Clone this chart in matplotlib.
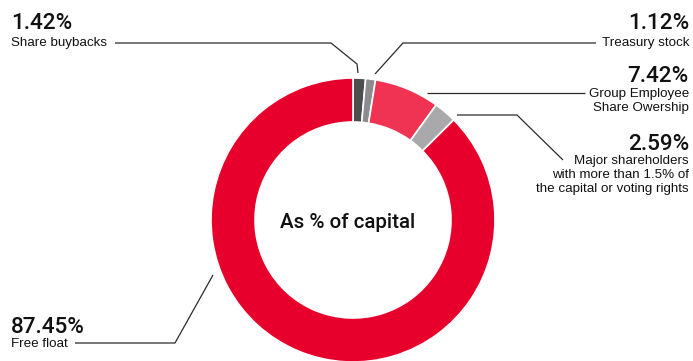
import matplotlib
matplotlib.use("Agg")
import matplotlib.pyplot as plt

# Shareholding structure (as % of capital), clockwise from 12 o'clock
labels = ["Share buybacks", "Treasury stock", "Group Employee\nShare Owership",
          "Major shareholders\nwith more than 1.5% of\nthe capital or voting rights",
          "Free float"]
values = [1.42, 1.12, 7.42, 2.59, 87.45]
colors = ["#4d4d4f", "#8c8c8e", "#f03352", "#a9a9ab", "#e8002d"]

W, H = 693, 361
plt.rcParams['font.family'] = ['Liberation Sans', 'DejaVu Sans']

fig = plt.figure(figsize=(W / 100, H / 100), dpi=100)
ax = fig.add_axes([0, 0, 1, 1])
ax.set_xlim(0, W)
ax.set_ylim(0, H)
ax.set_aspect("equal")
ax.axis("off")

# donut (image coords: center 353,220)
cx, cy = 353, H - 220
ax.pie(values, colors=colors, startangle=90, counterclock=False,
       center=(cx, cy), radius=142,
       wedgeprops=dict(width=44, edgecolor="white", linewidth=1.2))
ax.set_xlim(0, W)
ax.set_ylim(0, H)

num_font = dict(family=["Roboto", "DejaVu Sans"], fontweight="medium")

ax.text(348, H - 228, "As % of capital", ha="center", va="baseline",
        fontsize=14.8, color="#111111", **num_font)

def fy(y):
    return H - y

line_kw = dict(color="#2b2b2b", linewidth=0.9, solid_capstyle="butt")

# leader lines (image pixel coords)
leaders = [
    [(115, 43), (331, 43), (357, 64), (358, 73)],
    [(375, 74), (403, 43), (596, 43)],
    [(427, 93), (585, 93)],
    [(457, 115), (517, 115), (563, 160)],
    [(213, 275), (175, 343), (75, 343)],
]
for pts in leaders:
    ax.plot([p[0] for p in pts], [fy(p[1]) for p in pts], **line_kw)

big = 16.2
small = 9.6

# left labels
ax.text(11, fy(29), f"{values[0]:.2f}%", fontsize=big, ha="left", va="baseline", color="#111111", **num_font)
ax.text(11, fy(46), labels[0], fontsize=small, ha="left", va="baseline", color="#111111")
ax.text(11, fy(333), f"{values[4]:.2f}%", fontsize=big, ha="left", va="baseline", color="#111111", **num_font)
ax.text(11, fy(347), labels[4], fontsize=small, ha="left", va="baseline", color="#111111")

# right labels
rx = 689
ax.text(rx, fy(29), f"{values[1]:.2f}%", fontsize=big, ha="right", va="baseline", color="#111111", **num_font)
ax.text(rx, fy(46), labels[1], fontsize=small, ha="right", va="baseline", color="#111111")
ax.text(rx, fy(82), f"{values[2]:.2f}%", fontsize=big, ha="right", va="baseline", color="#111111", **num_font)
ax.text(rx, fy(88), labels[2], fontsize=small, ha="right", va="top", color="#111111",
        linespacing=1.2)
ax.text(rx, fy(150), f"{values[3]:.2f}%", fontsize=big, ha="right", va="baseline", color="#111111", **num_font)
ax.text(rx, fy(155), labels[3], fontsize=small, ha="right", va="top", color="#111111",
        linespacing=1.2, multialignment="right")

fig.savefig("out.png", dpi=100)
